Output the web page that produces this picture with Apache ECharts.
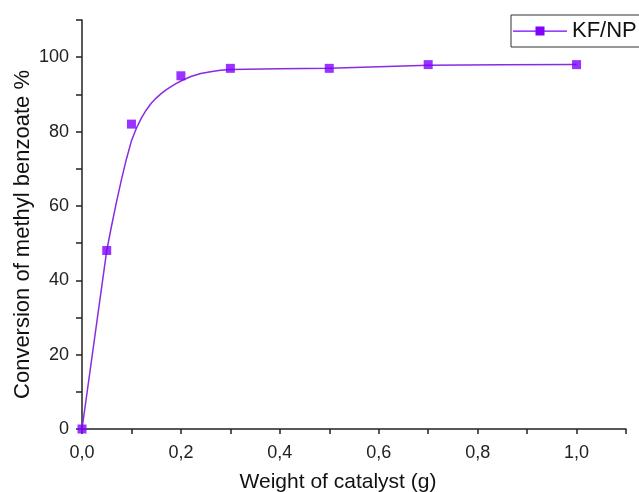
<!DOCTYPE html>
<html>
<head>
<meta charset="utf-8">
<script src="https://cdn.jsdelivr.net/npm/echarts@6/dist/echarts.min.js"></script>
<style>
  html, body { margin: 0; padding: 0; background: #fff; }
  #chart { width: 639px; height: 492px; }
</style>
</head>
<body>
<div id="chart"></div>
<script>
// measured points
var weights = [0, 0.05, 0.1, 0.2, 0.3, 0.5, 0.7, 1.0];
var conversion = [0, 48, 82, 95, 97, 97, 98, 98];

// fitted curve
var fitX = [0, 0.05, 0.06, 0.07, 0.08, 0.09, 0.1, 0.11, 0.12, 0.13, 0.14, 0.15, 0.16, 0.17, 0.18, 0.19, 0.2, 0.22, 0.24, 0.26, 0.28, 0.3, 0.4, 0.5, 0.6, 0.7, 0.85, 1.0];
var fitY = [0, 48, 54.8, 61.2, 67.2, 72.7, 77.5, 80.9, 83.6, 85.8, 87.6, 89.0, 90.2, 91.2, 92.1, 92.9, 93.6, 94.8, 95.6, 96.1, 96.5, 96.7, 96.9, 97.0, 97.4, 97.8, 97.95, 98.0];

var seriesName = 'KF/NP';
var purple = '#7f00ff';
var axisColor = '#222';

var pts = weights.map(function (w, i) { return [w, conversion[i]]; });
var fit = fitX.map(function (w, i) { return [w, fitY[i]]; });

var chart = echarts.init(document.getElementById('chart'));
chart.setOption({
	animation: false,
	textStyle: { fontFamily: 'Liberation Sans, Arial, sans-serif' },
	grid: { left: 82, right: 13, top: 20, bottom: 63, containLabel: false, outerBoundsMode: 'none' },
	legend: {
		left: 511,
		top: 15,
		padding: [5, 30, 5, 2],
		borderColor: '#333',
		borderWidth: 1,
		itemWidth: 54,
		itemHeight: 9,
		itemGap: 6,
		data: [{
			name: seriesName,
			icon: 'path://M0,4H54V5.2H0Z M22.5,0H31.5V9H22.5Z'
		}],
		textStyle: { fontSize: 22, color: '#111', lineHeight: 22 }
	},
	xAxis: {
		type: 'value',
		min: 0,
		max: 1.1,
		interval: 0.1,
		name: 'Weight of catalyst (g)',
		nameLocation: 'middle',
		nameMoveOverlap: false,
		nameGap: 43,
		nameTextStyle: { fontSize: 21, color: '#111', padding: [0, 32, 0, 0] },
		axisLine: { onZero: false, lineStyle: { color: axisColor, width: 1.5 } },
		axisTick: { inside: false, length: 5, lineStyle: { color: axisColor, width: 1.5 } },
		axisLabel: {
			fontSize: 18,
			color: '#222',
			margin: 15,
			formatter: function (v) {
				var k = Math.round(v * 10);
				return k % 2 === 0 ? (k / 10).toFixed(1).replace('.', ',') : '';
			}
		},
		splitLine: { show: false }
	},
	yAxis: {
		type: 'value',
		min: 0,
		max: 110,
		interval: 10,
		name: 'Conversion of methyl benzoate %',
		nameLocation: 'middle',
		nameMoveOverlap: false,
		nameGap: 48,
		nameTextStyle: { fontSize: 22, color: '#111', padding: [0, 20, 0, 0] },
		axisLine: { show: true, onZero: false, lineStyle: { color: axisColor, width: 1.5 } },
		axisTick: { show: true, inside: false, length: 6, lineStyle: { color: axisColor, width: 1.5 } },
		axisLabel: {
			fontSize: 18,
			color: '#222',
			margin: 13,
			formatter: function (v) {
				return Math.round(v) % 20 === 0 ? String(Math.round(v)) : '';
			}
		},
		splitLine: { show: false }
	},
	series: [
		{
			name: seriesName,
			type: 'line',
			data: fit,
			showSymbol: false,
			symbol: 'none',
			color: purple,
			lineStyle: { color: '#8a2be2', width: 1.5 },
			z: 2
		},
		{
			name: 'points',
			type: 'scatter',
			data: pts,
			symbol: 'rect',
			symbolSize: 9,
			itemStyle: { color: purple },
			z: 3
		}
	]
});
</script>
</body>
</html>
